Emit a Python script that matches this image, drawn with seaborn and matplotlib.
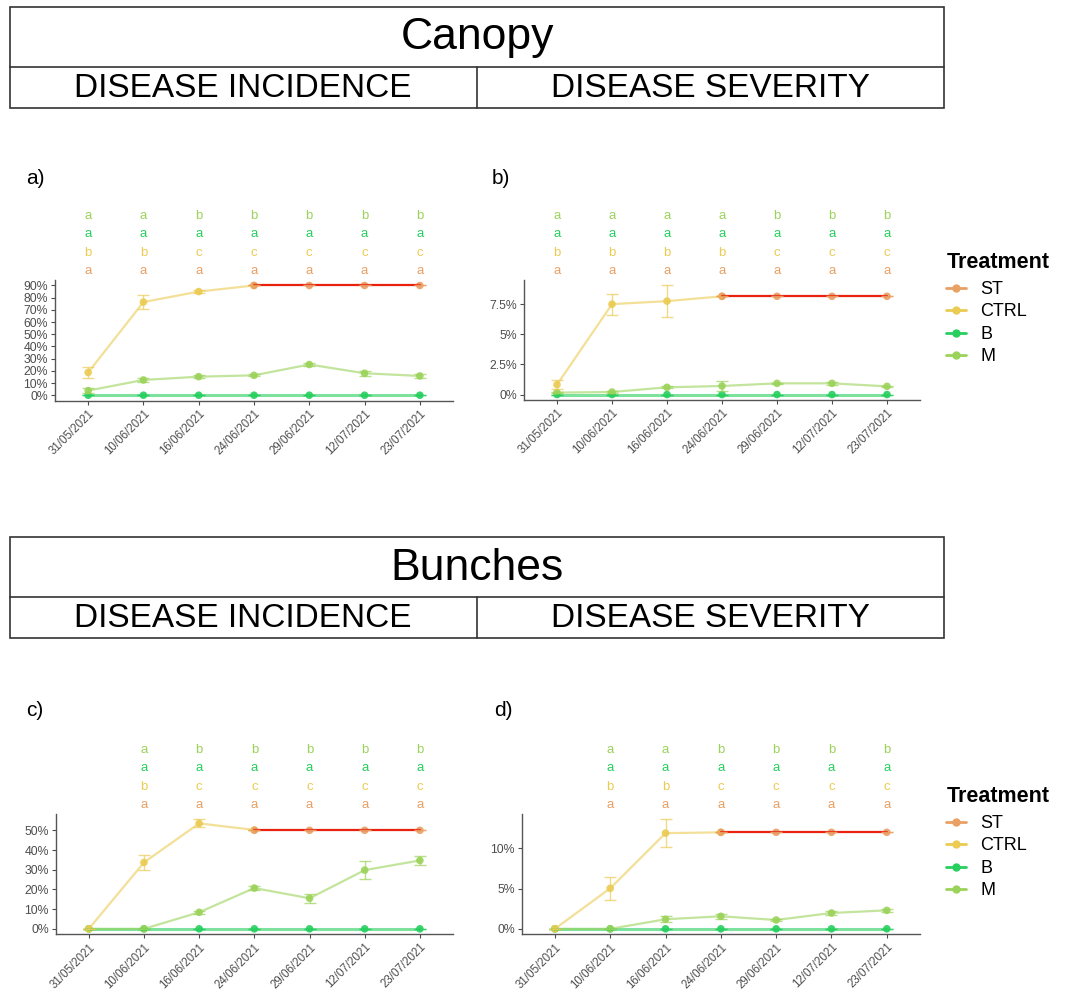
import numpy as np
import pandas as pd
import seaborn as sns
import matplotlib.pyplot as plt
from matplotlib.lines import Line2D
from matplotlib.patches import Rectangle

nan = np.nan

dates = ['31/05/2021', '10/06/2021', '16/06/2021', '24/06/2021',
         '29/06/2021', '12/07/2021', '23/07/2021']
treatments = ['ST', 'CTRL', 'B', 'M']
colors = {'ST': '#E9A064', 'CTRL': '#EBCB52', 'B': '#27CF5E', 'M': '#9BD35A'}
st_line = '#E8220F'

# a) canopy - disease incidence (%)
a_st = [nan, nan, nan, 90, 90, 90, 90]
a_ctrl = [18.7, 76.4, 85.0, 90.0, nan, nan, nan]
a_ctrl_err = [4.5, 5.4, 1.0, 0.0, nan, nan, nan]
a_b = [0, 0, 0, 0, 0, 0, 0]
a_m = [3.8, 12.5, 15.2, 16.3, 25.2, 18.0, 15.8]
a_m_err = [2.0, 2.0, 1.2, 0.8, 1.5, 2.0, 2.0]
a_yticks = [0, 10, 20, 30, 40, 50, 60, 70, 80, 90]
a_letters = {'M': ['a', 'a', 'b', 'b', 'b', 'b', 'b'],
             'B': ['a', 'a', 'a', 'a', 'a', 'a', 'a'],
             'CTRL': ['b', 'b', 'c', 'c', 'c', 'c', 'c'],
             'ST': ['a', 'a', 'a', 'a', 'a', 'a', 'a']}

# b) canopy - disease severity (%)
b_st = [nan, nan, nan, 8.15, 8.15, 8.15, 8.15]
b_ctrl = [0.82, 7.5, 7.75, 8.15, nan, nan, nan]
b_ctrl_err = [0.4, 0.88, 1.3, 0.0, nan, nan, nan]
b_b = [0, 0, 0, 0, 0, 0, 0]
b_m = [0.16, 0.21, 0.6, 0.71, 0.93, 0.93, 0.68]
b_m_err = [0.05, 0.05, 0.08, 0.42, 0.06, 0.1, 0.05]
b_yticks = [0, 2.5, 5, 7.5]
b_letters = {'M': ['a', 'a', 'a', 'a', 'b', 'b', 'b'],
             'B': ['a', 'a', 'a', 'a', 'a', 'a', 'a'],
             'CTRL': ['b', 'b', 'b', 'b', 'c', 'c', 'c'],
             'ST': ['a', 'a', 'a', 'a', 'a', 'a', 'a']}

# c) bunches - disease incidence (%)
c_st = [nan, nan, nan, 50, 50, 50, 50]
c_ctrl = [0, 33.7, 53.5, 50.2, nan, nan, nan]
c_ctrl_err = [0, 4.0, 2.0, 0.0, nan, nan, nan]
c_b = [0, 0, 0, 0, 0, 0, 0]
c_m = [0, 0, 8.4, 20.7, 15.5, 29.8, 34.7]
c_m_err = [0, 0, 0.8, 1.0, 2.2, 4.5, 2.3]
c_yticks = [0, 10, 20, 30, 40, 50]
c_letters = {'M': ['', 'a', 'b', 'b', 'b', 'b', 'b'],
             'B': ['', 'a', 'a', 'a', 'a', 'a', 'a'],
             'CTRL': ['', 'b', 'c', 'c', 'c', 'c', 'c'],
             'ST': ['', 'a', 'a', 'a', 'a', 'a', 'a']}

# d) bunches - disease severity (%)
d_st = [nan, nan, nan, 12, 12, 12, 12]
d_ctrl = [0, 5.04, 11.9, 12.0, nan, nan, nan]
d_ctrl_err = [0, 1.4, 1.7, 0.0, nan, nan, nan]
d_b = [0, 0, 0, 0, 0, 0, 0]
d_m = [0, 0, 1.19, 1.56, 1.1, 1.97, 2.3]
d_m_err = [0, 0, 0.35, 0.3, 0.15, 0.2, 0.2]
d_yticks = [0, 5, 10]
d_letters = {'M': ['', 'a', 'a', 'b', 'b', 'b', 'b'],
             'B': ['', 'a', 'a', 'a', 'a', 'a', 'a'],
             'CTRL': ['', 'b', 'b', 'c', 'c', 'c', 'c'],
             'ST': ['', 'a', 'a', 'a', 'a', 'a', 'a']}


def make_df(st, ctrl, ctrl_err, b, m, m_err):
    rows = []
    zero = [0] * len(dates)
    for trt, vals, errs in [('ST', st, zero), ('CTRL', ctrl, ctrl_err),
                            ('B', b, zero), ('M', m, m_err)]:
        for i, (v, e) in enumerate(zip(vals, errs)):
            rows.append({'Treatment': trt, 'x': i, 'date': dates[i],
                         'value': v, 'err': e})
    df = pd.DataFrame(rows).dropna(subset=['value'])
    df['err'] = df['err'].fillna(0)
    return df


sns.set_theme(style='white')
plt.rcParams['font.family'] = ['Liberation Sans', 'DejaVu Sans']
plt.rcParams['text.color'] = 'black'

W, H = 1072, 989
fig = plt.figure(figsize=(W / 100, H / 100), dpi=100)


def px_axes(l, t, r, b):
    return fig.add_axes([l / W, 1 - b / H, (r - l) / W, (b - t) / H])


# header boxes
bg = fig.add_axes([0, 0, 1, 1])
bg.set_xlim(0, W)
bg.set_ylim(H, 0)
bg.axis('off')
for top, mid, bot, title in [(7, 67, 108, 'Canopy'), (537, 597, 638, 'Bunches')]:
    bg.add_patch(Rectangle((10, top), 934, bot - top, fill=False, lw=1.2, ec='#333333'))
    bg.plot([10, 944], [mid, mid], color='#333333', lw=1.2)
    bg.plot([477, 477], [mid, bot], color='#333333', lw=1.2)
    bg.text(477, (top + mid) / 2 + 1, title, ha='center', va='center', fontsize=32)
    bg.text(243, (mid + bot) / 2 + 1, 'DISEASE INCIDENCE', ha='center', va='center', fontsize=24)
    bg.text(710, (mid + bot) / 2 + 1, 'DISEASE SEVERITY', ha='center', va='center', fontsize=24)

panels = [
    ('a)', (26, 178), (55, 280, 453, 400.7), make_df(a_st, a_ctrl, a_ctrl_err, a_b, a_m, a_m_err), a_yticks, a_letters),
    ('b)', (492, 178), (524, 280, 920, 400), make_df(b_st, b_ctrl, b_ctrl_err, b_b, b_m, b_m_err), b_yticks, b_letters),
    ('c)', (26, 711), (55.7, 814, 453, 934.3), make_df(c_st, c_ctrl, c_ctrl_err, c_b, c_m, c_m_err), c_yticks, c_letters),
    ('d)', (494, 711), (521.7, 814, 920, 934.3), make_df(d_st, d_ctrl, d_ctrl_err, d_b, d_m, d_m_err), d_yticks, d_letters),
]

row_offsets = {'M': 46, 'B': 33, 'CTRL': 19.5, 'ST': 6.3}

for tag, tag_pos, box, df, yticks, letters in panels:
    bg.text(tag_pos[0], tag_pos[1], tag, ha='left', va='center', fontsize=15)
    ax = px_axes(*box)
    ax.set_facecolor('none')

    for trt in ['B', 'M', 'CTRL', 'ST']:
        sub = df[df['Treatment'] == trt]
        lc = st_line if trt == 'ST' else colors[trt]
        la = 1.0 if trt == 'ST' else 0.6
        lw = 2.2 if trt == 'B' else 1.6
        sns.lineplot(data=sub, x='x', y='value', color=lc, alpha=la, lw=lw,
                     ax=ax, legend=False, errorbar=None)
        ax.errorbar(sub['x'], sub['value'], yerr=sub['err'], fmt='none',
                    ecolor=colors[trt], alpha=0.7, elinewidth=1.0, capsize=4)
        sns.scatterplot(data=sub, x='x', y='value', color=colors[trt], s=30,
                        alpha=0.9, edgecolor='none', ax=ax, legend=False)

    lo = (df['value'] - df['err']).min()
    hi = (df['value'] + df['err']).max()
    pad = 0.05 * (hi - lo)
    ax.set_ylim(lo - pad, hi + pad)
    ax.set_xlim(-0.6, len(dates) - 0.4)

    ax.set_xticks(range(len(dates)))
    ax.set_xticklabels(dates, rotation=45, ha='right', rotation_mode='anchor',
                       fontsize=8.3)
    ax.set_yticks(yticks)
    ax.set_yticklabels([f'{v:g}%' for v in yticks], fontsize=8.8)
    ax.tick_params(axis='both', colors='#4D4D4D', length=3,
                   width=0.8, pad=2, left=True, bottom=True)
    ax.set_xlabel('')
    ax.set_ylabel('')
    for s in ['top', 'right']:
        ax.spines[s].set_visible(False)
    for s in ['left', 'bottom']:
        ax.spines[s].set_color('#555555')
        ax.spines[s].set_linewidth(1.0)

    for trt in ['M', 'B', 'CTRL', 'ST']:
        for i, letter in enumerate(letters[trt]):
            if letter:
                ax.annotate(letter, xy=(i, 1), xycoords=('data', 'axes fraction'),
                            xytext=(0, row_offsets[trt]), textcoords='offset points',
                            ha='center', va='center', fontsize=9.5,
                            color=colors[trt], annotation_clip=False)

handles = [Line2D([0], [0], color=colors[t], marker='o', markersize=5, lw=2)
           for t in treatments]
for title_y in [263, 797]:
    fig.text(947 / W, 1 - title_y / H, 'Treatment', ha='left', va='center',
             fontsize=15.5, fontweight='bold')
    fig.legend(handles, treatments, loc='upper left',
               bbox_to_anchor=(946 / W, 1 - (title_y + 18) / H), frameon=False,
               fontsize=13, handlelength=1.1, handletextpad=0.8,
               labelspacing=0.3, borderaxespad=0, borderpad=0)

fig.savefig('out.png', dpi=100)
